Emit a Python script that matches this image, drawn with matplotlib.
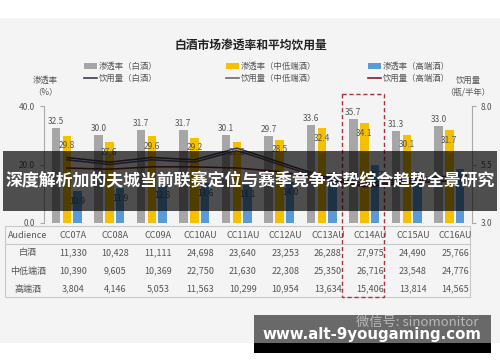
import matplotlib
matplotlib.use('Agg')
import matplotlib.pyplot as plt
from matplotlib.patches import Rectangle
from matplotlib.lines import Line2D
from matplotlib.transforms import blended_transform_factory

plt.rcParams['font.family'] = ['Noto Sans CJK SC', 'DejaVu Sans']

# data
audiences = ['CC07A', 'CC08A', 'CC09A', 'CC10AU', 'CC11AU',
             'CC12AU', 'CC13AU', 'CC14AU', 'CC15AU', 'CC16AU']
pen_baijiu = [32.5, 30.0, 31.7, 31.7, 30.1, 29.7, 33.6, 35.7, 31.3, 33.0]
pen_mid = [29.8, 27.6, 29.6, 29.2, 27.6, 28.5, 32.4, 34.1, 30.1, 31.7]
pen_high = [10.9, 11.9, 12.8, 13.6, 13.1, 14.0, 17.2, 19.7, 17.4, 18.3]
vol_baijiu = [5.8, 5.6, 5.8, 5.7, 6.2, 5.6, 5.0, 4.7, 4.9, 5.0]
vol_mid = [5.7, 5.5, 5.7, 5.6, 6.1, 5.5, 4.9, 4.6, 4.8, 4.9]
vol_high = [5.35, 5.3, 5.4, 5.4, 5.35, 5.2, 4.9, 4.55, 4.7, 4.8]
row_names = ['白酒', '中低端酒', '高端酒']
tab_baijiu = [11330, 10428, 11111, 24698, 23640, 23253, 26288, 27975, 24490, 25766]
tab_mid = [10390, 9605, 10369, 22750, 21630, 22308, 25350, 26716, 23548, 24776]
tab_high = [3804, 4146, 5053, 11563, 10299, 10954, 13634, 15406, 13814, 14565]

c_gray = '#a6a6a6'
c_yellow = '#f5c000'
c_blue = '#5b9bd5'
c_text = '#555555'

fig = plt.figure(figsize=(5, 3.62), dpi=100)

# background layer in pixel coordinates
bg = fig.add_axes([0, 0, 1, 1], zorder=0)
bg.set_xlim(0, 500)
bg.set_ylim(362, 0)
bg.axis('off')
bg.add_patch(Rectangle((0, 18), 500, 325, color='#f4f4f4', lw=0))

bg.text(251, 45, '白酒市场渗透率和平均饮用量', ha='center', va='center',
        fontsize=8.5, fontweight='bold', color='#222222')

# legend
leg_x = [84, 226, 368]
leg_cols = [c_gray, c_yellow, c_blue]
leg_line_cols = ['#3c3c4c', '#6a6a6a', '#8b1a2a']
leg_names = ['白酒', '中低端酒', '高端酒']
for x, c, lc, n in zip(leg_x, leg_cols, leg_line_cols, leg_names):
    bg.add_patch(Rectangle((x, 63), 13, 6, color=c, lw=0))
    bg.text(x + 15, 66, '渗透率（' + n + '）', va='center', fontsize=6, color=c_text)
    bg.add_line(Line2D([x, x + 13], [78, 78], color=lc, lw=1.2))
    bg.text(x + 15, 78, '饮用量（' + n + '）', va='center', fontsize=6, color=c_text)

bg.text(45, 86, '渗透率\n（%）', ha='center', va='center', fontsize=6,
        color=c_text, linespacing=1.3)
bg.text(468, 86, '饮用量\n（瓶/半年）', ha='center', va='center', fontsize=6,
        color=c_text, linespacing=1.3)

# table frame
bg.add_patch(Rectangle((5, 226), 465, 71, fill=False, ec='#c8c8c8', lw=0.8))
bg.add_line(Line2D([5, 470], [244, 244], color='#c8c8c8', lw=0.8))

# main chart
ax = fig.add_axes([44 / 500, (362 - 223) / 362, 428 / 500, 117 / 362], zorder=1)
ax.patch.set_alpha(0)
n = len(audiences)
xs = list(range(n))
w = 0.2
ax.bar([x - 0.26 for x in xs], pen_baijiu, w, color=c_gray)
ax.bar(xs, pen_mid, w, color=c_yellow)
ax.bar([x + 0.25 for x in xs], pen_high, w, color=c_blue)
for i in xs:
    ax.annotate(f'{pen_baijiu[i]:.1f}', (i - 0.26, pen_baijiu[i]), xytext=(0, 6.5),
                textcoords='offset pixels', ha='center', va='center',
                fontsize=6, color=c_text)
    ax.annotate(f'{pen_mid[i]:.1f}', (i, pen_mid[i]), xytext=(0, -10),
                textcoords='offset pixels', ha='center', va='center',
                fontsize=6, color=c_text)
    ax.annotate(f'{pen_high[i]:.1f}', (i + 0.25, pen_high[i]), xytext=(0, -10),
                textcoords='offset pixels', ha='center', va='center',
                fontsize=6, color=c_text)
ax.set_xlim(-0.54, 9.53)
ax.set_ylim(0, 40)
ax.set_yticks([0, 20, 40])
ax.set_yticklabels(['0.0', '20.0', '40.0'])
ax.set_xticks([])
for s in ['top', 'right', 'bottom']:
    ax.spines[s].set_visible(False)
ax.spines['left'].set_color('#aaaaaa')
ax.spines['left'].set_linewidth(0.8)
ax.tick_params(axis='y', labelsize=6, colors='#aaaaaa', labelcolor=c_text, length=3, width=0.8)

ax2 = ax.twinx()
ax2.set_zorder(2)
ax2.patch.set_alpha(0)
ax2.plot(xs, vol_baijiu, color='#3c3c4c', lw=1.1)
ax2.plot(xs, vol_mid, color='#5a4a6a', lw=1.1)
ax2.plot(xs, vol_high, color='#7a1f2a', lw=1.1)
ax2.set_ylim(3, 8)
ax2.set_yticks([3, 5.5, 8])
ax2.set_yticklabels(['3.0', '5.5', '8.0'])
for s in ['top', 'left', 'bottom']:
    ax2.spines[s].set_visible(False)
ax2.spines['right'].set_color('#aaaaaa')
ax2.spines['right'].set_linewidth(0.8)
ax2.tick_params(axis='y', labelsize=6, colors='#aaaaaa', labelcolor=c_text, length=3, width=0.8)

# table text: x from the chart's categories, y in pixels
tt = blended_transform_factory(ax.transData, bg.transData)
bg.text(28, 235, 'Audience', ha='center', va='center', fontsize=6.5, color=c_text)
for r, name in enumerate(row_names):
    bg.text(28, 253 + 18 * r, name, ha='center', va='center', fontsize=6.5, color=c_text)
for i in xs:
    ax.text(i + 0.14, 235, audiences[i], transform=tt, ha='center', va='center',
            fontsize=6.5, color=c_text, clip_on=False)
    for r, vals in enumerate([tab_baijiu, tab_mid, tab_high]):
        ax.text(i + 0.14, 253 + 18 * r, f'{vals[i]:,}', transform=tt, ha='center',
                va='center', fontsize=6.5, color=c_text, clip_on=False)

# highlight box around CC14AU
hl = audiences.index('CC14AU')
ax.add_patch(Rectangle((hl - 0.53, 94), 0.99, 203, transform=tt, fill=False,
                       ec='#b0303a', lw=1.0, ls=(0, (3, 2)), clip_on=False))

# overlays
ov = fig.add_axes([0, 0, 1, 1], zorder=10)
ov.set_xlim(0, 500)
ov.set_ylim(362, 0)
ov.axis('off')
ov.patch.set_alpha(0)
ov.add_patch(Rectangle((3, 151), 494, 60, color='black', alpha=0.68, lw=0))
ov.text(250, 181, '深度解析加的夫城当前联赛定位与赛季竞争态势综合趋势全景研究',
        ha='center', va='center', fontsize=12.2, fontweight='bold', color='white')
ov.text(417, 322, '微信号: sinomonitor', ha='center', va='center', fontsize=9.5,
        color='#b8b8b8')
ov.add_patch(Rectangle((254, 315), 237, 28, color='#3a3a3a', alpha=0.75, lw=0))
ov.add_patch(Rectangle((254, 343), 237, 10, color='black', lw=0))
ov.text(372, 335, 'www.alt-9yougaming.com', ha='center', va='center',
        fontsize=10.8, fontweight='bold', color='white', family='DejaVu Sans')

fig.savefig('out.png', dpi=100)
